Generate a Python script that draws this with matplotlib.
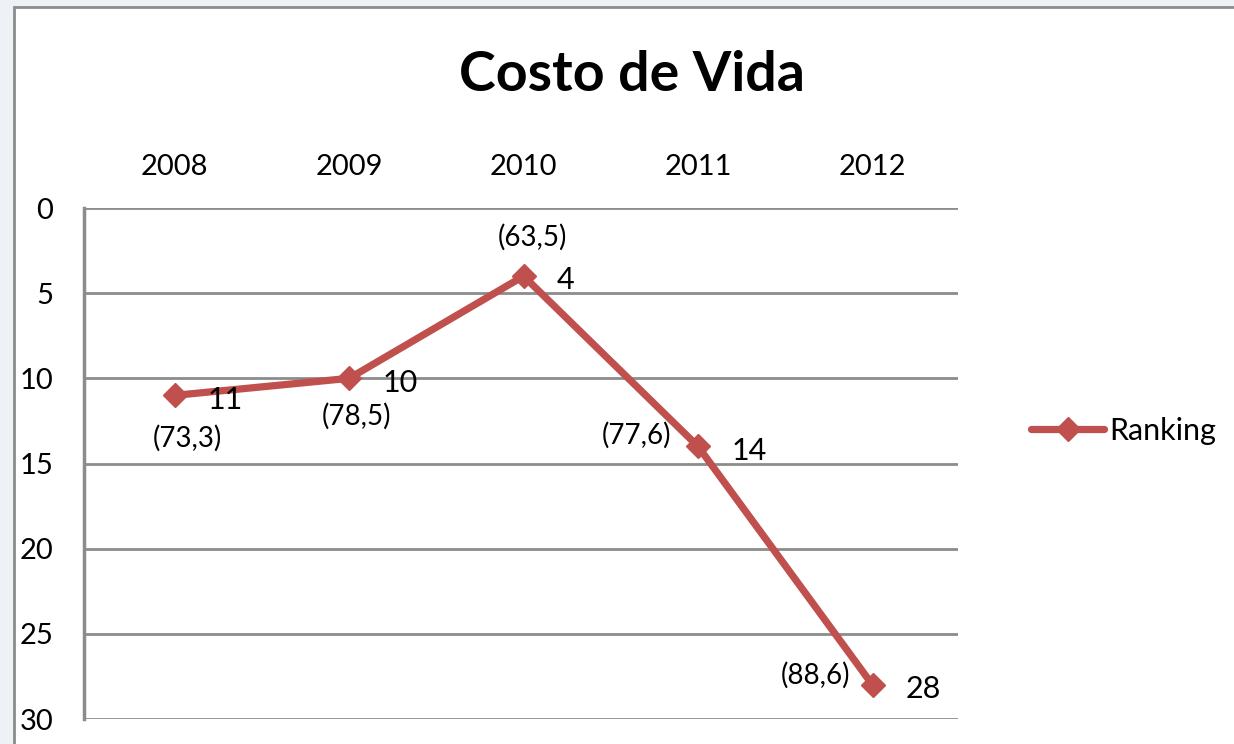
import matplotlib.pyplot as plt
from matplotlib.patches import Rectangle

years = ['2008', '2009', '2010', '2011', '2012']
ranking = [11, 10, 4, 14, 28]
cost_labels = ['(73,3)', '(78,5)', '(63,5)', '(77,6)', '(88,6)']

plt.rcParams['font.family'] = ['Lato', 'DejaVu Sans']
size = 21
red = '#C0504D'
grid_col = '#8c8c8c'

fig = plt.figure(figsize=(12.34, 7.44), dpi=100)
fig.patch.set_facecolor('#eef2f6')
fig.patches.append(Rectangle((14/1234, -0.05), 1.1, 1 - 7/744 + 0.05,
                             transform=fig.transFigure, facecolor='white',
                             edgecolor='#8c8c8c', linewidth=2, zorder=-1))

ax = fig.add_axes([84/1234, 1 - 719/744, 874/1234, 511/744])
ax.set_zorder(1)
ax.set_facecolor('none')

x = list(range(len(years)))
ax.plot(x, ranking, color=red, linewidth=5.2, marker='D', markersize=12,
        label='Ranking', solid_capstyle='round')

# value labels (right of points)
for i, v in enumerate(ranking):
    ax.annotate(str(v), (i, v), xytext=(24, -3), textcoords='offset points',
                ha='left', va='center', fontsize=22)

# cost-of-living labels
offsets = [(9, -31, 'center'), (5, -27, 'center'), (6, 28, 'center'),
           (-19, 8, 'right'), (-16, 7, 'right')]
for i, (lab, off) in enumerate(zip(cost_labels, offsets)):
    ax.annotate(lab, (i, ranking[i]), xytext=(off[0], off[1]),
                textcoords='offset points', ha=off[2], va='center',
                fontsize=20)

ax.set_xlim(-0.52, 4.49)
ax.set_ylim(30, 0)
ax.set_yticks([0, 5, 10, 15, 20, 25, 30])
ax.set_xticks(x)
ax.set_xticklabels(years)
ax.xaxis.tick_top()
ax.tick_params(axis='x', length=0, pad=20, labelsize=size)
ax.tick_params(axis='y', length=0, pad=22, labelsize=size)
ax.grid(axis='y', color=grid_col, linewidth=2)
ax.set_axisbelow(True)
for s in ['top', 'right', 'bottom']:
    ax.spines[s].set_visible(False)
ax.spines['left'].set_color(grid_col)
ax.spines['left'].set_linewidth(2.5)

ax.legend(loc='center left', bbox_to_anchor=(1.052, 0.564), frameon=False,
          fontsize=22, handlelength=2.4, handletextpad=0.15)

fig.text(632/1234, 1 - 75/744, 'Costo de Vida', ha='center', va='center',
         fontsize=40, fontweight='bold')

fig.savefig('out.png', dpi=100)
